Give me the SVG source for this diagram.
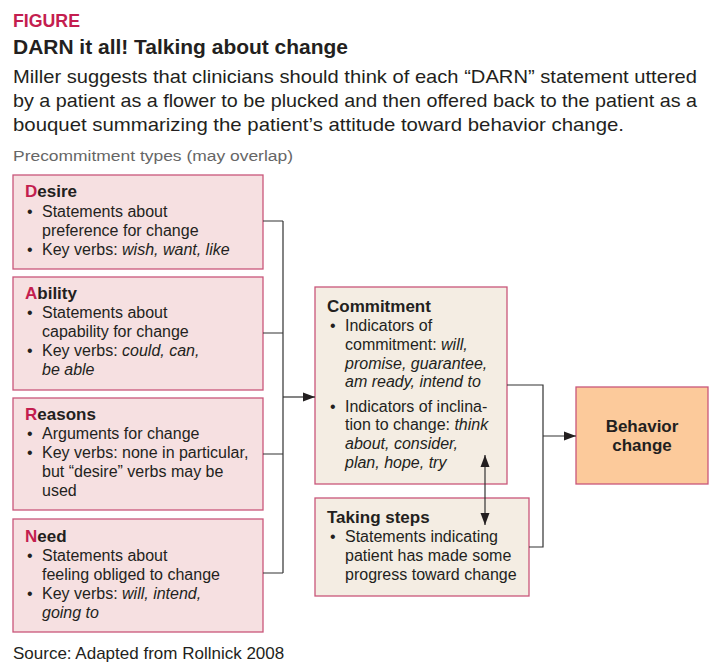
<svg xmlns="http://www.w3.org/2000/svg" width="719" height="672" viewBox="0 0 719 672">
<style>
text{font-family:"Liberation Sans",Arial,sans-serif;fill:#231f20}
.hd{font-size:21px;font-weight:bold}
.fig{font-size:18px;font-weight:bold;fill:#c41e4f}
.p{font-size:19px}
.sub{font-size:15.5px;fill:#666}
.b{font-size:16px}
.h{font-size:17px;font-weight:bold}
.r{fill:#c41e4f}
.i{font-style:italic}
.pink{fill:#f6e0e1;stroke:#c9567a;stroke-width:1.3}
.beige{fill:#f4ede3;stroke:#c9567a;stroke-width:1.3}
.orange{fill:#fcca9b;stroke:#c9567a;stroke-width:1.3}
.ln{fill:none;stroke:#333;stroke-width:1.2}
</style>
<defs>
<marker id="ah" viewBox="0 0 12 10" refX="12" refY="5" markerWidth="12" markerHeight="10" markerUnits="userSpaceOnUse" orient="auto-start-reverse">
<path d="M0,0.5 L12,5 L0,9.5 Z" fill="#231f20"/>
</marker>
</defs>
<rect width="719" height="672" fill="#fff"/>
<text class="fig" x="13" y="27" textLength="67" lengthAdjust="spacingAndGlyphs">FIGURE</text>
<text class="hd" x="13" y="54" textLength="335" lengthAdjust="spacingAndGlyphs">DARN it all! Talking about change</text>
<text class="p" x="13" y="83" textLength="684" lengthAdjust="spacingAndGlyphs">Miller suggests that clinicians should think of each “DARN” statement uttered</text>
<text class="p" x="13" y="107" textLength="684" lengthAdjust="spacingAndGlyphs">by a patient as a flower to be plucked and then offered back to the patient as a</text>
<text class="p" x="13" y="131" textLength="611" lengthAdjust="spacingAndGlyphs">bouquet summarizing the patient’s attitude toward behavior change.</text>
<text class="sub" x="13" y="161" textLength="280" lengthAdjust="spacingAndGlyphs">Precommitment types (may overlap)</text>

<g id="desire">
<rect class="pink" x="13" y="175" width="250" height="94"/>
<text class="h" x="25" y="197"><tspan class="r">D</tspan>esire</text>
<text class="b" x="27" y="217">•</text><text class="b" x="42" y="217">Statements about</text>
<text class="b" x="42" y="236">preference for change</text>
<text class="b" x="27" y="255">•</text><text class="b" x="42" y="255">Key verbs: <tspan class="i">wish, want, like</tspan></text>
</g>

<g id="ability">
<rect class="pink" x="13" y="277" width="250" height="113"/>
<text class="h" x="25" y="299"><tspan class="r">A</tspan>bility</text>
<text class="b" x="27" y="318">•</text><text class="b" x="42" y="318">Statements about</text>
<text class="b" x="42" y="337">capability for change</text>
<text class="b" x="27" y="356">•</text><text class="b" x="42" y="356">Key verbs: <tspan class="i">could, can,</tspan></text>
<text class="b i" x="42" y="375">be able</text>
</g>

<g id="reasons">
<rect class="pink" x="13" y="398" width="250" height="112"/>
<text class="h" x="25" y="420"><tspan class="r">R</tspan>easons</text>
<text class="b" x="27" y="439">•</text><text class="b" x="42" y="439">Arguments for change</text>
<text class="b" x="27" y="458">•</text><text class="b" x="42" y="458">Key verbs: none in particular,</text>
<text class="b" x="42" y="477">but “desire” verbs may be</text>
<text class="b" x="42" y="496">used</text>
</g>

<g id="need">
<rect class="pink" x="13" y="519" width="250" height="113"/>
<text class="h" x="25" y="542"><tspan class="r">N</tspan>eed</text>
<text class="b" x="27" y="561">•</text><text class="b" x="42" y="561">Statements about</text>
<text class="b" x="42" y="580">feeling obliged to change</text>
<text class="b" x="27" y="599">•</text><text class="b" x="42" y="599">Key verbs: <tspan class="i">will, intend,</tspan></text>
<text class="b i" x="42" y="618">going to</text>
</g>

<g id="commitment">
<rect class="beige" x="315" y="287" width="192" height="197"/>
<text class="h" x="327" y="312">Commitment</text>
<text class="b" x="330" y="331">•</text><text class="b" x="345" y="331">Indicators of</text>
<text class="b" x="345" y="350">commitment: <tspan class="i">will,</tspan></text>
<text class="b i" x="345" y="369">promise, guarantee,</text>
<text class="b i" x="345" y="387">am ready, intend to</text>
<text class="b" x="330" y="412">•</text><text class="b" x="345" y="412">Indicators of inclina-</text>
<text class="b" x="345" y="430">tion to change: <tspan class="i">think</tspan></text>
<text class="b i" x="345" y="449">about, consider,</text>
<text class="b i" x="345" y="468">plan, hope, try</text>
</g>

<g id="taking-steps">
<rect class="beige" x="315" y="498" width="214" height="98"/>
<text class="h" x="327" y="523">Taking steps</text>
<text class="b" x="330" y="542">•</text><text class="b" x="345" y="542">Statements indicating</text>
<text class="b" x="345" y="561">patient has made some</text>
<text class="b" x="345" y="580">progress toward change</text>
</g>

<g id="behavior-change">
<rect class="orange" x="576" y="387" width="132" height="97"/>
<text class="h" x="642" y="432" text-anchor="middle">Behavior</text>
<text class="h" x="642" y="451" text-anchor="middle">change</text>
</g>

<g id="connectors">
<path class="ln" d="M263,221 H283 M263,333 H283 M263,454 H283 M263,573 H283 M283,221 V573"/>
<path class="ln" d="M283,397 H315" marker-end="url(#ah)"/>
<path class="ln" d="M507,385 H543 V547 H529"/>
<path class="ln" d="M543,436 H576" marker-end="url(#ah)"/>
<path class="ln" d="M485,455 V525" marker-start="url(#ah)" marker-end="url(#ah)"/>
</g>

<text x="13" y="659" style="font-size:17px">Source: Adapted from Rollnick 2008</text>
</svg>
